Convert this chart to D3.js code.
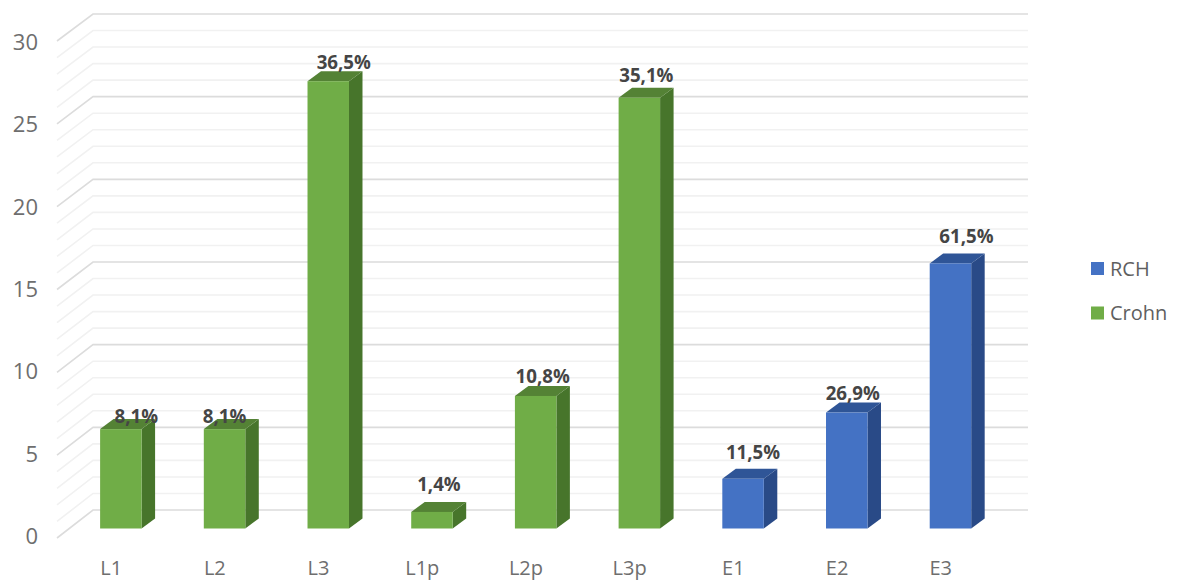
<!DOCTYPE html>
<html>
<head>
<meta charset="utf-8">
<style>
    html, body { margin: 0; background: #fff; }
    svg { display: block; }
    text { font-family: "Open Sans", sans-serif; }
    .tick-label text { font-size: 22px; fill: #6e6e6e; }
    .cat-label text { font-size: 20px; fill: #6e6e6e; }
    .value-label { font-size: 18.7px; font-weight: 700; fill: #454545; }
    .legend-label { font-size: 20px; fill: #5f5f5f; }
</style>
</head>
<body>
<svg id="chart" width="1179" height="585"></svg>
<script src="https://d3js.org/d3.v7.min.js"></script>
<script>
    var categories = ["L1", "L2", "L3", "L1p", "L2p", "L3p", "E1", "E2", "E3"];
    var values = [6, 6, 27, 1, 8, 26, 3, 7, 16];
    var percents = ["8,1%", "8,1%", "36,5%", "1,4%", "10,8%", "35,1%", "11,5%", "26,9%", "61,5%"];
    var groups = ["Crohn", "Crohn", "Crohn", "Crohn", "Crohn", "Crohn", "RCH", "RCH", "RCH"];
    var legendNames = ["RCH", "Crohn"];

    var colors = {
        Crohn: { front: "#70ad47", side: "#47752b", top: "#548235" },
        RCH: { front: "#4472c4", side: "#294a87", top: "#2f5597" }
    };

    var svg = d3.select("#chart");
    var domain = [0, 30];

    // the 3d box: front plane for the bars, back wall and left edge for the grid
    var y = d3.scaleLinear().domain(domain).range([528.5, 31.5]);
    var yBack = d3.scaleLinear().domain(domain).range([510, 14]);
    var yEdge = d3.scaleLinear().domain(domain).range([538, 41]);
    var yTick = d3.scaleLinear().domain(domain).range([536.5, 42.5]);
    var x = d3.scaleBand().domain(categories).range([69, 1002.3]).paddingInner(0.6).paddingOuter(0.3);

    var depthX = 13.5, depthY = 10;
    var wall = { edge: 57, back: 93, right: 1028 };

    // one grid line per unit, heavier every 5
    var grid = svg.append("g").attr("fill", "none");
    grid.selectAll("path")
        .data(d3.range(0, 31))
        .enter().append("path")
        .attr("d", function (d) {
            return "M" + wall.edge + "," + yEdge(d) + "L" + wall.back + "," + yBack(d) + "L" + wall.right + "," + yBack(d);
        })
        .attr("stroke", function (d) { return d % 5 === 0 ? "#dcdcdc" : "#f1f1f1"; })
        .attr("stroke-width", 1.6);

    svg.append("g")
        .attr("class", "tick-label")
        .attr("transform", "translate(38,0)")
        .call(d3.axisLeft(yTick).tickValues(d3.range(0, 31, 5)).tickSize(0).tickPadding(0))
        .call(function (g) { g.select(".domain").remove(); });

    // category names sit a little left of their bars
    svg.append("g")
        .attr("class", "cat-label")
        .attr("transform", "translate(-9.7,568)")
        .call(d3.axisBottom(x).tickSize(0).tickPadding(0))
        .call(function (g) {
            g.select(".domain").remove();
            g.selectAll("text")
                .attr("y", 0)
                .attr("dy", "0.36em");
        });

    var bars = svg.append("g").selectAll("g")
        .data(categories)
        .enter().append("g");

    bars.append("path")
        .attr("fill", function (d, i) { return colors[groups[i]].side; })
        .attr("d", function (d, i) {
            var r = x(d) + x.bandwidth();
            return "M" + r + "," + y(values[i]) +
                "L" + (r + depthX) + "," + (y(values[i]) - depthY) +
                "L" + (r + depthX) + "," + (y(0) - depthY) +
                "L" + r + "," + y(0) + "Z";
        });

    bars.append("path")
        .attr("fill", function (d, i) { return colors[groups[i]].top; })
        .attr("d", function (d, i) {
            var l = x(d), r = l + x.bandwidth(), t = y(values[i]);
            return "M" + l + "," + t +
                "L" + (l + depthX) + "," + (t - depthY) +
                "L" + (r + depthX) + "," + (t - depthY) +
                "L" + r + "," + t + "Z";
        });

    bars.append("rect")
        .attr("x", function (d) { return x(d); })
        .attr("y", function (d, i) { return y(values[i]); })
        .attr("width", x.bandwidth())
        .attr("height", function (d, i) { return y(0) - y(values[i]); })
        .attr("fill", function (d, i) { return colors[groups[i]].front; });

    // labels were placed by hand, so each has its own shift from the bar top
    var labelShift = [[15.5, -6], [0, -6], [15.5, -12], [7, -21], [7, -13], [7, -16], [10, -20], [6, -12.5], [16, -20]];

    svg.append("g").selectAll("text")
        .data(percents)
        .enter().append("text")
        .attr("class", "value-label")
        .attr("text-anchor", "middle")
        .attr("x", function (d, i) { return x(categories[i]) + x.bandwidth() / 2 + labelShift[i][0]; })
        .attr("y", function (d, i) { return y(values[i]) + labelShift[i][1]; })
        .text(function (d) { return d; });

    var legendY = d3.scalePoint().domain(legendNames).range([268.5, 313]);
    var legend = svg.append("g").selectAll("g")
        .data(legendNames)
        .enter().append("g")
        .attr("transform", function (d) { return "translate(1091," + legendY(d) + ")"; });

    legend.append("rect")
        .attr("y", -6.5)
        .attr("width", 13)
        .attr("height", 13)
        .attr("fill", function (d) { return colors[d].front; });

    legend.append("text")
        .attr("class", "legend-label")
        .attr("x", 19)
        .attr("dy", "0.36em")
        .text(function (d) { return d; });
</script>
</body>
</html>
